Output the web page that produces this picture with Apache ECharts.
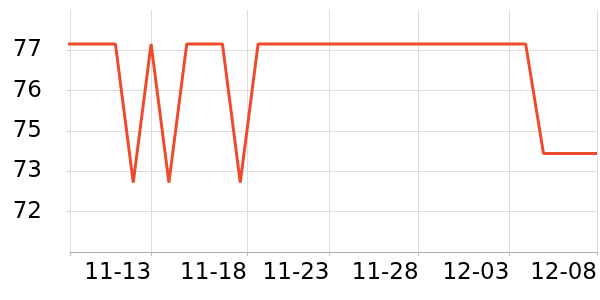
<!DOCTYPE html>
<html>
<head>
<meta charset="utf-8">
<script src="https://cdn.jsdelivr.net/npm/echarts@6/dist/echarts.min.js"></script>
<style>html,body{margin:0;padding:0;background:#fff}#c{width:600px;height:300px}</style>
</head>
<body>
<div id="c"></div>
<script>
// Daily dates and values
var dates = ['2023-11-08','2023-11-09','2023-11-10','2023-11-11','2023-11-12','2023-11-13','2023-11-14',
  '2023-11-15','2023-11-16','2023-11-17','2023-11-18','2023-11-19','2023-11-20','2023-11-21','2023-11-22',
  '2023-11-23','2023-11-24','2023-11-25','2023-11-26','2023-11-27','2023-11-28','2023-11-29','2023-11-30',
  '2023-12-01','2023-12-02','2023-12-03','2023-12-04','2023-12-05','2023-12-06','2023-12-07','2023-12-08'];
var values = [77.2,77.2,77.2,77.2,72.9,77.2,72.9,
  77.2,77.2,77.2,72.9,77.2,77.2,77.2,77.2,
  77.2,77.2,77.2,77.2,77.2,77.2,77.2,77.2,
  77.2,77.2,77.2,77.2,73.8,73.8,73.8,73.8];

// x axis range and tick positions (times)
var xMin = '2023-11-08T10:54:00Z';
var xMax = '2023-12-08T00:00:00Z';
var xTickTimes = ['2023-11-13T00:00:00Z','2023-11-18T09:00:00Z','2023-11-23T00:00:00Z','2023-11-28T00:00:00Z','2023-12-03T02:00:00Z','2023-12-08T00:00:00Z'];
var xTickLabels = ['11-13','11-18','11-23','11-28','12-03','12-08'];

// y axis range and ticks
var yMin = 70.75, yMax = 78.25;
var yTickValues = [72, 73.25, 74.5, 75.75, 77];
var yTickLabels = ['72','73','75','76','77'];

var DAY = 86400000;
var t0 = new Date(dates[0] + 'T00:00:00Z').getTime();
function dayNum(s){ return Math.round((new Date(s).getTime() - t0) / DAY * 10000) / 10000; }
var xTickDays = xTickTimes.map(dayNum);
var seriesData = dates.map(function(d, i){ return [dayNum(d + 'T00:00:00Z'), values[i]]; });

var chart = echarts.init(document.getElementById('c'), null, {renderer: 'canvas'});
chart.setOption({
  animation: false,
  grid: {left: 70, right: -1, top: 10, bottom: 48, containLabel: false},
  xAxis: {
    type: 'value',
    min: dayNum(xMin),
    max: dayNum(xMax),
    axisLine: {show: true, lineStyle: {color: '#aaa', width: 1}},
    axisTick: {show: true, length: 4, lineStyle: {color: '#bbb'}, customValues: [dayNum(xMin)].concat(xTickDays)},
    splitLine: {show: true, lineStyle: {color: '#ddd', width: 1}},
    axisLabel: {
      customValues: xTickDays,
      align: 'right',
      margin: 10,
      fontFamily: 'DejaVu Sans',
      fontSize: 23,
      color: '#000',
      formatter: function (v) {
        for (var i = 0; i < xTickDays.length; i++) if (Math.abs(xTickDays[i] - v) < 1e-6) return xTickLabels[i];
        return '';
      }
    }
  },
  yAxis: {
    type: 'value',
    min: yMin,
    max: yMax,
    axisLine: {show: false},
    axisTick: {show: true, length: 3, lineStyle: {color: '#ccc'}, customValues: yTickValues},
    splitLine: {show: true, lineStyle: {color: '#ddd', width: 1}},
    axisLabel: {
      customValues: yTickValues,
      margin: 28,
      fontFamily: 'DejaVu Sans',
      fontSize: 23,
      color: '#000',
      formatter: function (v) {
        for (var i = 0; i < yTickValues.length; i++) if (Math.abs(yTickValues[i] - v) < 1e-6) return yTickLabels[i];
        return '';
      }
    }
  },
  series: [{
    type: 'line',
    data: seriesData,
    showSymbol: false,
    clip: true,
    lineStyle: {color: '#ee4b2b', width: 3},
    itemStyle: {color: '#ee4b2b'}
  }]
});
</script>
</body>
</html>
